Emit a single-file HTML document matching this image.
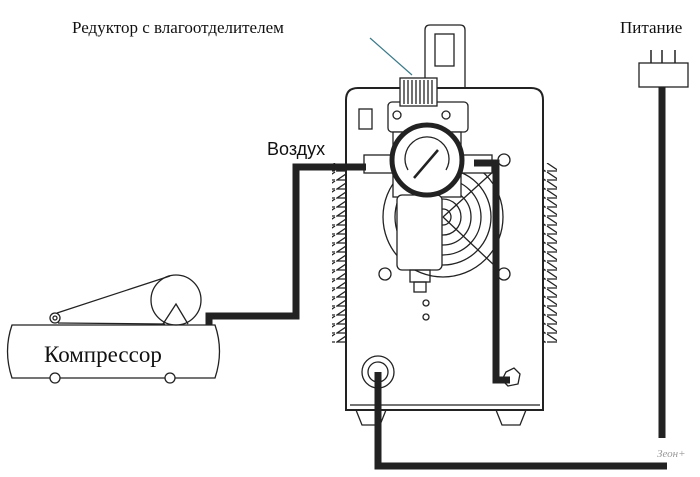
<!DOCTYPE html>
<html><head><meta charset="utf-8"><style>
body{margin:0;background:#fff;width:700px;height:472px;overflow:hidden}
text{font-family:"Liberation Serif",serif;fill:#111}
</style></head><body>
<svg width="700" height="472" viewBox="0 0 700 472" xmlns="http://www.w3.org/2000/svg">
<defs>
<pattern id="finL" x="0" y="163" width="14" height="9" patternUnits="userSpaceOnUse">
<path d="M13,0 L1,8 L13,8" fill="none" stroke="#222" stroke-width="1.3"/>
</pattern>
<pattern id="finR" x="0" y="163" width="14" height="9" patternUnits="userSpaceOnUse">
<path d="M1,0 L13,8 L1,8" fill="none" stroke="#222" stroke-width="1.3"/>
</pattern>
</defs>
<rect x="332" y="163" width="14" height="180" fill="url(#finL)"/>
<rect x="543" y="163" width="14" height="180" fill="url(#finR)"/>
<g fill="none" stroke="#222" stroke-width="1.3">
<!-- handle -->
<path d="M425,88 L425,30 Q425,25 430,25 L460,25 Q465,25 465,30 L465,88"/>
<rect x="435" y="34" width="19" height="32"/>
<!-- body -->
<path d="M346,410 L346,100 Q346,88 358,88 L531,88 Q543,88 543,100 L543,410 Z" fill="#fff" stroke-width="2"/>
<line x1="350" y1="405" x2="540" y2="405"/>
<path d="M356,410 L362,425 L380,425 L386,410 M496,410 L502,425 L520,425 L526,410"/>
<!-- switch -->
<rect x="359" y="109" width="13" height="20"/>
<!-- fan -->
<circle cx="443" cy="217" r="60"/>
<circle cx="443" cy="217" r="48"/><circle cx="443" cy="217" r="38"/><circle cx="443" cy="217" r="28"/><circle cx="443" cy="217" r="18"/><circle cx="443" cy="217" r="8"/>
<line x1="443" y1="217" x2="495" y2="170"/><line x1="443" y1="217" x2="495" y2="266"/>
<circle cx="504" cy="160" r="6"/><circle cx="504" cy="274" r="6"/><circle cx="385" cy="274" r="6"/>
<circle cx="426" cy="303" r="3"/><circle cx="426" cy="317" r="3"/>
<!-- regulator -->
<rect x="388" y="102" width="80" height="30" rx="4" fill="#fff"/>
<circle cx="397" cy="115" r="4"/><circle cx="446" cy="115" r="4"/>
<rect x="400" y="78" width="37" height="28" fill="#fff"/>
<path d="M404,80 V104 M408,80 V104 M412,80 V104 M416,80 V104 M420,80 V104 M424,80 V104 M428,80 V104 M432,80 V104"/>
<rect x="393" y="132" width="68" height="65" fill="#fff"/>
<rect x="397" y="195" width="45" height="75" rx="5" fill="#fff"/>
<rect x="410" y="270" width="20" height="12"/><rect x="414" y="282" width="12" height="10"/>
<rect x="364" y="155" width="30" height="18" fill="#fff"/>
<rect x="462" y="155" width="30" height="18" fill="#fff"/>
<circle cx="427" cy="160" r="35" fill="#fff" stroke-width="5"/>
<path d="M408,170 A22,22 0 1 1 446,170"/>
<line x1="414" y1="178" x2="438" y2="150" stroke-width="2.5"/>
<!-- bottom gland -->
<circle cx="378" cy="372" r="16"/><circle cx="378" cy="372" r="10"/>
<path d="M506,372 L514,368 L520,374 L518,384 L508,386 L502,380 Z"/>
<!-- compressor -->
<path d="M12,325 L215,325 Q224,351 215,378 L12,378 Q3,351 12,325 Z"/>
<circle cx="55" cy="378" r="5" fill="#fff"/><circle cx="170" cy="378" r="5" fill="#fff"/>
<circle cx="55" cy="318" r="5"/><circle cx="55" cy="318" r="2"/>
<circle cx="176" cy="300" r="25"/>
<path d="M163,324 L176,304 L188,324"/>
<line x1="57" y1="313" x2="170" y2="276"/><line x1="58" y1="323" x2="165" y2="324"/>
</g>
<g fill="none" stroke="#222" stroke-width="7">
<path d="M209,325 V316 H296 V167 H366"/>
<path d="M474,163 H496 V380 H510"/>
<path d="M378,372 V466 H667"/>
<path d="M662,87 V438"/>
</g>
<rect x="639" y="63" width="49" height="24" fill="#fff" stroke="#222" stroke-width="1.3"/>
<path d="M651,50 V63 M662,50 V63 M675,50 V63" stroke="#222" stroke-width="1.5"/>
<line x1="370" y1="38" x2="412" y2="75" stroke="#3a7a8a" stroke-width="1.2"/>
<text x="72" y="33" font-size="17">Редуктор с влагоотделителем</text>
<text x="620" y="33" font-size="17">Питание</text>
<text x="267" y="155" font-size="18" style="font-family:'Liberation Sans',sans-serif">Воздух</text>
<text x="44" y="362" font-size="23">Компрессор</text>
<text x="657" y="457" font-size="11" font-style="italic" style="fill:#999">Зеон+</text>
</svg>
</body></html>
